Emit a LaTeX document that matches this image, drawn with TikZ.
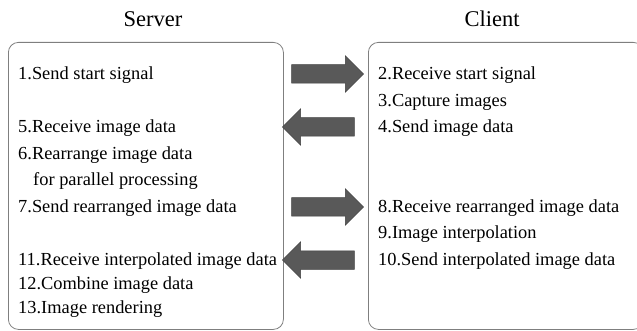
\documentclass[tikz,border=0pt]{standalone}
\usepackage{fontspec}
\setmainfont{LiberationSerif}[Extension=.ttf, UprightFont=*-Regular,
  BoldFont=*-Bold, ItalicFont=*-Italic, BoldItalicFont=*-BoldItalic]
\usetikzlibrary{shapes.arrows}
\definecolor{arrowgray}{HTML}{595959}
\definecolor{edgegray}{HTML}{3F3F3F}
\definecolor{framegray}{HTML}{7F7F7F}

\begin{document}
\begin{tikzpicture}[x=1pt, y=-1pt,
    panel/.style={draw=framegray, line width=0.8pt, rounded corners=10pt,
      minimum width=275pt, minimum height=287pt, anchor=north west},
    title/.style={anchor=base, font=\rmfamily\fontsize{22.5}{26}\selectfont},
    stepline/.style={anchor=base west, inner sep=0pt, font=\rmfamily\fontsize{18.4}{22}\selectfont},
    blockarrow/.style={single arrow, draw=edgegray, fill=arrowgray, line width=0.5pt,
      inner xsep=0pt, inner ysep=9pt, single arrow head extend=9pt, minimum height=72pt},
    toleft/.style={shape border rotate=180}
  ]
  \useasboundingbox (0,0) rectangle (637,331);
  \clip (0,0) rectangle (637,331);

  % the two sides
  \node[panel] (server) at (8,42) {};
  \node[panel] (client) at (368,42) {};
  \node[title] (servertitle) at (153,27) {Server};
  \node[title] (clienttitle) at (492,27) {Client};

  % server steps
  \node[stepline] (s1)  at (18,80)    {1.Send start signal};
  \node[stepline] (s5)  at (18,133)   {5.Receive image data};
  \node[stepline] (s6)  at (18,159.5) {6.Rearrange image data};
  \node[stepline] (s6b) at (33,186)   {for parallel processing};
  \node[stepline] (s7)  at (18,212.5) {7.Send rearranged image data};
  \node[stepline] (s11) at (18,265.5) {11.Receive interpolated image data};
  \node[stepline] (s12) at (18,289)   {12.Combine image data};
  \node[stepline] (s13) at (18,313)   {13.Image rendering};

  % client steps
  \node[stepline] (c2)  at (378,80)    {2.Receive start signal};
  \node[stepline] (c3)  at (378,106.5) {3.Capture images};
  \node[stepline] (c4)  at (378,133)   {4.Send image data};
  \node[stepline] (c8)  at (378,212.5) {8.Receive rearranged image data};
  \node[stepline] (c9)  at (378,239)   {9.Image interpolation};
  \node[stepline] (c10) at (378,265.5) {10.Send interpolated image data};

  % messages between the two
  \node[blockarrow] (startsig) at (323,74) {};
  \node[blockarrow, toleft] (imgdata) at (323,127) {};
  \node[blockarrow] (rearranged) at (323,207) {};
  \node[blockarrow, toleft] (interpolated) at (323,260) {};
\end{tikzpicture}
\end{document}
